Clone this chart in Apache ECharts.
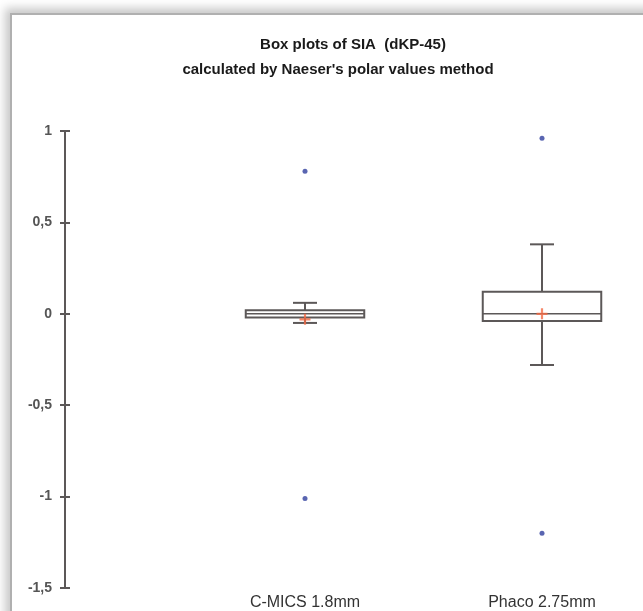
<!DOCTYPE html>
<html>
<head>
<meta charset="utf-8">
<script src="https://cdn.jsdelivr.net/npm/echarts@6/dist/echarts.min.js"></script>
<style>
html,body{margin:0;padding:0;background:#fff;width:643px;height:611px;overflow:hidden;}
#frame{position:absolute;left:10px;top:13px;width:660px;height:640px;background:#fff;border-left:2px solid #b0b0b0;border-top:2px solid #b0b0b0;box-shadow:-5px -5px 9px rgba(0,0,0,0.22);}
#main{position:absolute;left:0;top:0;width:643px;height:611px;}
</style>
</head>
<body>
<div id="frame"></div>
<div id="main"></div>
<script>
const categories = ['C-MICS 1.8mm', 'Phaco 2.75mm'];
// [min whisker, Q1, median, Q3, max whisker]
const boxValues = [
  [-0.05, -0.02, 0.0, 0.02, 0.06],
  [-0.28, -0.04, 0.0, 0.12, 0.38]
];
const meanValues = [-0.03, 0.0];
const outliers = [
  [0, 0.78], [0, -1.01],
  [1, 0.96], [1, -1.2]
];
const yTicks = {min: -1.5, max: 1, interval: 0.5};
const titleLines = ['Box plots of SIA  (dKP-45)', 'calculated by Naeser\'s polar values method'];

const chart = echarts.init(document.getElementById('main'), null, {renderer: 'canvas'});

const boxData = boxValues.map((v, i) => [i].concat(v));
const meanData = meanValues.map((v, i) => [i, v]);

const lineColor = '#5c5858';
const font = 'Liberation Sans, Arial, sans-serif';

function renderBox(params, api) {
  const idx = api.value(0);
  const lo = api.coord([idx, api.value(1)]);
  const q1 = api.coord([idx, api.value(2)]);
  const med = api.coord([idx, api.value(3)]);
  const q3 = api.coord([idx, api.value(4)]);
  const hi = api.coord([idx, api.value(5)]);
  const band = api.size([1, 0])[0];
  const hw = band * 0.25;
  const cw = 12;
  const x = q1[0];
  const st = {stroke: lineColor, lineWidth: 2, fill: null};
  return {
    type: 'group',
    children: [
      {type: 'line', shape: {x1: x, y1: q3[1], x2: x, y2: hi[1]}, style: st},
      {type: 'line', shape: {x1: x, y1: q1[1], x2: x, y2: lo[1]}, style: st},
      {type: 'line', shape: {x1: x - cw, y1: hi[1], x2: x + cw, y2: hi[1]}, style: st},
      {type: 'line', shape: {x1: x - cw, y1: lo[1], x2: x + cw, y2: lo[1]}, style: st},
      {type: 'rect', shape: {x: x - hw, y: q3[1], width: hw * 2, height: q1[1] - q3[1]}, style: {stroke: lineColor, lineWidth: 2, fill: '#fff'}},
      {type: 'line', shape: {x1: x - hw, y1: med[1], x2: x + hw, y2: med[1]}, style: {stroke: lineColor, lineWidth: 1.5}}
    ]
  };
}

const titleStyle = {fontFamily: font, fontSize: 15, fontWeight: 'bold', color: '#1a1a1a'};

const option = {
  animation: false,
  title: [
    {text: titleLines[0], left: 348, textAlign: 'center', top: 32, textStyle: titleStyle},
    {text: titleLines[1], left: 333, textAlign: 'center', top: 57, textStyle: titleStyle}
  ],
  grid: [
    {left: 65, top: 131, bottom: 23, width: 100},
    {left: 305, top: 131, bottom: 23, width: 237}
  ],
  xAxis: [
    {gridIndex: 0, type: 'category', data: [''], show: false},
    {gridIndex: 1, type: 'category', data: categories, boundaryGap: false,
     axisLine: {show: false}, axisTick: {show: false},
     axisLabel: {margin: 7, fontFamily: font, fontSize: 16, color: '#333'}}
  ],
  yAxis: [
    {gridIndex: 0, type: 'value', min: yTicks.min, max: yTicks.max, interval: yTicks.interval,
     axisLine: {show: true, lineStyle: {color: lineColor, width: 2}},
     axisTick: {show: true, length: 5, lineStyle: {color: lineColor, width: 2}},
     axisLabel: {margin: 13, fontFamily: font, fontSize: 14, fontWeight: 'bold', color: '#555',
       formatter: v => String(v).replace('.', ',')},
     splitLine: {show: false}},
    {gridIndex: 0, type: 'value', position: 'left', min: yTicks.min, max: yTicks.max, interval: yTicks.interval,
     axisLine: {show: false},
     axisTick: {show: true, inside: true, length: 5, lineStyle: {color: lineColor, width: 2}},
     axisLabel: {show: false}, splitLine: {show: false}},
    {gridIndex: 1, type: 'value', min: yTicks.min, max: yTicks.max, interval: yTicks.interval, show: false}
  ],
  series: [
    {type: 'custom', xAxisIndex: 1, yAxisIndex: 2, renderItem: renderBox, data: boxData, clip: false,
     encode: {x: 0, y: [1, 2, 3, 4, 5]}},
    {type: 'scatter', xAxisIndex: 1, yAxisIndex: 2, data: meanData,
     symbol: 'path://M4,0H6V4H10V6H6V10H4V6H0V4H4Z', symbolSize: 11,
     itemStyle: {color: '#f26a45'}, z: 5},
    {type: 'scatter', xAxisIndex: 1, yAxisIndex: 2, data: outliers,
     symbol: 'circle', symbolSize: 5, itemStyle: {color: '#2f3f9e'}, z: 5}
  ]
};
chart.setOption(option);
</script>
</body>
</html>
